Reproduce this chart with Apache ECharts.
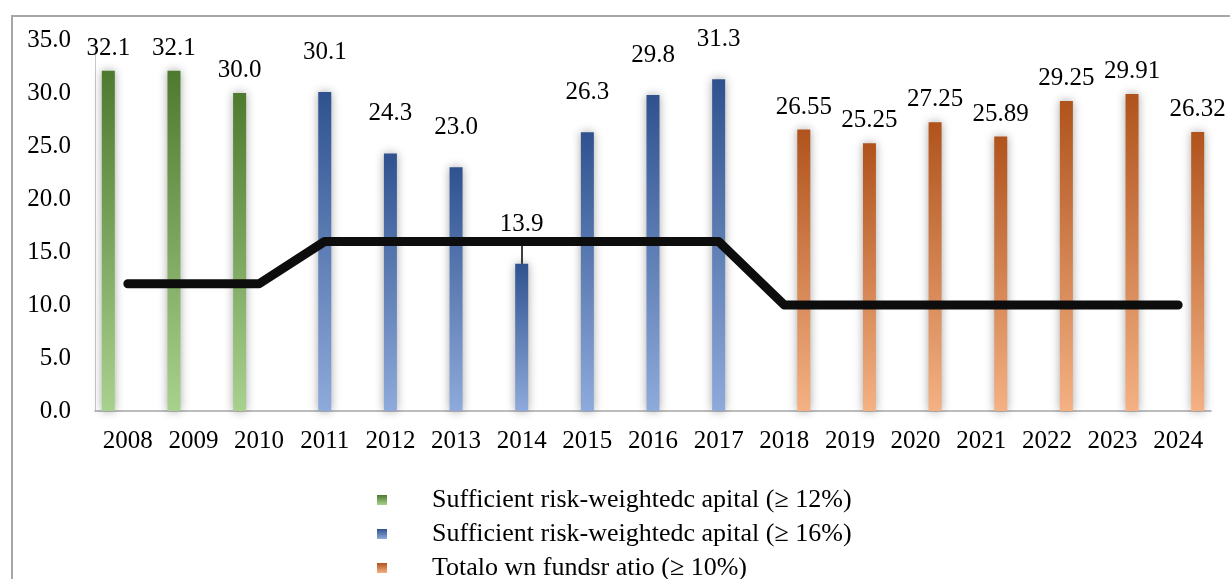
<!DOCTYPE html>
<html>
<head>
<meta charset="utf-8">
<script src="https://cdn.jsdelivr.net/npm/echarts@6/dist/echarts.min.js"></script>
<style>
html,body{margin:0;padding:0;background:#fff;}
#chart{width:1230px;height:579px;}
</style>
</head>
<body>
<div id="chart"></div>
<script>
// years on the x axis
var years = ['2008','2009','2010','2011','2012','2013','2014','2015','2016','2017','2018','2019','2020','2021','2022','2023','2024'];
// ratio series, '-' where a series has no bar
var cap12 = [32.1, 32.1, 30.0, '-', '-', '-', '-', '-', '-', '-', '-', '-', '-', '-', '-', '-', '-'];
var cap16 = ['-', '-', '-', 30.1, 24.3, 23.0, 13.9, 26.3, 29.8, 31.3, '-', '-', '-', '-', '-', '-', '-'];
var ownFunds = ['-', '-', '-', '-', '-', '-', '-', '-', '-', '-', 26.55, 25.25, 27.25, 25.89, 29.25, 29.91, 26.32];
// required minimum
var minimum = [12, 12, 12, 16, 16, 16, 16, 16, 16, 16, 10, 10, 10, 10, 10, 10, 10];
var names = ['Sufficient risk-weightedc apital (\u2265 12%)', 'Sufficient risk-weightedc apital (\u2265 16%)', 'Totalo wn fundsr atio (\u2265 10%)'];

var font = '"Liberation Serif", "Times New Roman", serif';

function grad(top, bottom){
	return new echarts.graphic.LinearGradient(0, 0, 0, 1, [
		{offset: 0, color: top},
		{offset: 1, color: bottom}
	]);
}

function fmt(p){
	var v = p.value;
	if (p.seriesIndex == 2) return v.toFixed(2);
	return v.toFixed(1);
}

function barSeries(name, data, top, bottom){
	return {
		name: name,
		type: 'bar',
		data: data,
		barWidth: 13,
		barGap: '50%',
		itemStyle: {
			color: grad(top, bottom),
			shadowColor: 'rgba(0,0,0,0.35)',
			shadowBlur: 10
		},
		label: {
			show: true,
			position: 'top',
			distance: 10,
			formatter: fmt,
			color: '#000',
			fontFamily: font,
			fontSize: 25
		}
	};
}

var mycharts = echarts.init(document.getElementById('chart'));
var s2 = barSeries(names[1], cap16, '#2f528f', '#8eaadb');
// leader from the 2014 bar up to its label
s2.markLine = {
	symbol: 'none',
	silent: true,
	label: {show: false},
	lineStyle: {color: '#000', width: 1.5, type: 'solid'},
	data: [[{coord: ['2014', 13.9]}, {coord: ['2014', 16]}]]
};
s2.label.distance = 27;

var option = {
	animation: false,
	graphic: [{
		type: 'rect',
		shape: {x: 12, y: 16, width: 1240, height: 600},
		style: {fill: 'none', stroke: '#a6a6a6', lineWidth: 2},
		silent: true
	}],
	grid: {left: 95, right: 19, top: 40, bottom: 168},
	legend: {
		orient: 'vertical',
		left: 372,
		top: 482,
		height: 120,
		itemWidth: 10,
		itemHeight: 10,
		itemGap: 8,
		icon: 'rect',
		textStyle: {fontFamily: font, fontSize: 26, color: '#000', padding: [0, 0, 0, 40]},
		data: names
	},
	xAxis: {
		type: 'category',
		data: years,
		axisLine: {lineStyle: {color: '#a6a6a6', width: 1.5}},
		axisTick: {show: false},
		axisLabel: {color: '#000', fontFamily: font, fontSize: 25, margin: 18}
	},
	yAxis: {
		type: 'value',
		min: 0,
		max: 35,
		interval: 5,
		axisLine: {show: true, lineStyle: {color: '#c8c8c8', width: 1}},
		axisTick: {show: false},
		splitLine: {show: false},
		axisLabel: {color: '#000', fontFamily: font, fontSize: 25, margin: 24, formatter: function(v){ return v.toFixed(1); }}
	},
	series: [
		barSeries(names[0], cap12, '#4e7a2e', '#a9d18e'),
		s2,
		barSeries(names[2], ownFunds, '#b0531c', '#f4b183'),
		{
			name: 'minimum',
			type: 'line',
			data: minimum,
			symbol: 'none',
			z: 5,
			lineStyle: {color: '#0d0d0d', width: 9, cap: 'round', join: 'round'}
		}
	]
};
mycharts.setOption(option);
</script>
</body>
</html>
